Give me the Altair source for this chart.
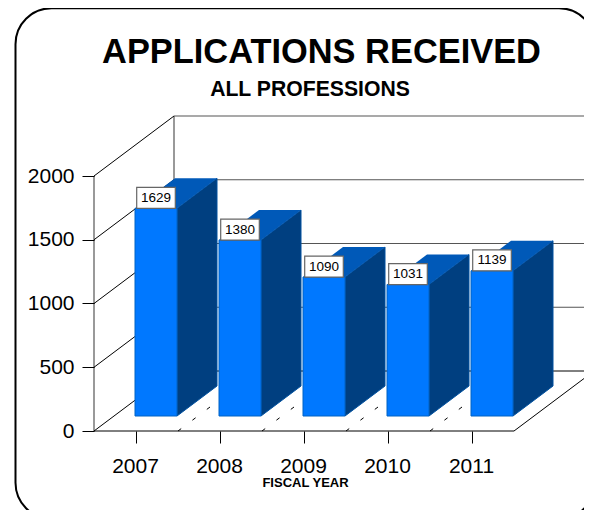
import altair as alt
import pandas as pd

years = [2007, 2008, 2009, 2010, 2011]
applications = [1629, 1380, 1090, 1031, 1139]
y_ticks = [0, 500, 1000, 1500, 2000]
title_text = "APPLICATIONS RECEIVED"
subtitle_text = "ALL PROFESSIONS"
x_title = "FISCAL YEAR"

FONT = "Liberation Sans"
W, H = 576, 502
XU = 1 / 84            # years per pixel
YU = 2000 / 255        # value units per pixel
DX, DY = 80 * XU, 60 * YU        # wall depth
BX, BY = 20 * XU, 15 * YU        # how far the bars stand in from the front
SX, SY = 40 * XU, 30 * YU        # depth of a bar
HALF = 21 * XU                   # half a bar's width
LEFT, END = 2006.5, 2011.5

xs = alt.Scale(domain=[2007 + (8 - 136) * XU, 2007 + (8 + W - 136) * XU], nice=False, zero=False)
ys = alt.Scale(domain=[(431 - 8 - H) * YU, (431 - 8) * YU], nice=False, zero=False)

x_axis = alt.Axis(
    values=years, format="d", grid=False, domain=False, tickSize=12, tickColor="black",
    labelFont=FONT, labelFontSize=21, labelColor="black", labelPadding=12, labelFlush=False,
    labelOffset=-1, labelOverlap=False, offset=-(H - 423), titleFont=FONT, titleFontSize=13,
    titleFontWeight="bold", titleColor="black", titleX=297, titleY=45, titleAnchor="middle", zindex=1)
y_axis = alt.Axis(
    values=y_ticks, format="d", grid=False, domain=False, tickSize=12, tickColor="black",
    labelFont=FONT, labelFontSize=21, labelColor="black", labelPadding=8,
    labelOverlap=False, offset=-86, zindex=1)


def X(f="x"):
    return alt.X(f"{f}:Q", scale=xs, axis=x_axis, title=x_title)


def Y(f="y"):
    return alt.Y(f"{f}:Q", scale=ys, axis=y_axis, title=None, stack=None)


# walls and floor
wall_side = pd.DataFrame([dict(x=LEFT, x2=LEFT + DX, y=v, y2=v + DY) for v in y_ticks])
back_grid = pd.DataFrame([dict(x=LEFT + DX, x2=END + DX, y=v + DY, y2=v + DY) for v in y_ticks[1:]])
verticals = pd.DataFrame([
    dict(x=LEFT, x2=LEFT, y=0, y2=2000),
    dict(x=LEFT + DX, x2=LEFT + DX, y=DY, y2=2000 + DY),
])
floor = pd.DataFrame([
    dict(x=LEFT, x2=END, y=0, y2=0),
    dict(x=LEFT + DX, x2=END + DX, y=DY, y2=DY),
    dict(x=END, x2=END + DX, y=0, y2=DY),
])
floor_dash = pd.DataFrame([dict(x=v + 0.5, x2=v + 0.5 + DX, y=0, y2=DY) for v in years[:-1]])


def rule(df, **kw):
    return alt.Chart(df).mark_rule(**kw).encode(x=X(), x2="x2:Q", y=Y(), y2="y2:Q")


# bars
front = pd.DataFrame([
    dict(year=str(a), x=a + BX - HALF, x2=a + BX + HALF, y=BY, y2=BY + v, value=v,
         cx=a + BX, boxx=a + BX - HALF + 1.7 * XU, boxx2=a + BX + HALF - 1.7 * XU,
         boxy=BY + v, boxy2=BY + v + 21 * YU, ty=BY + v + 10.5 * YU)
    for a, v in zip(years, applications)
])
side = pd.DataFrame([
    row
    for a, v in zip(years, applications)
    for row in (
        dict(year=str(a), x=a + BX + HALF, y=BY, y2=BY + v),
        dict(year=str(a), x=a + BX + HALF + SX, y=BY + SY, y2=BY + v + SY),
    )
])
top = pd.DataFrame([
    row
    for a, v in zip(years, applications)
    for row in (
        dict(year=str(a), x=a + BX - HALF, x2=a + BX + HALF, y=BY + v),
        dict(year=str(a), x=a + BX - HALF + SX, x2=a + BX + HALF + SX, y=BY + v + SY),
    )
])

frame = alt.Chart(pd.DataFrame({"k": [0]})).mark_rect(
    fillOpacity=0, stroke="black", strokeWidth=2, cornerRadius=36
).encode(x=alt.value(7.5), x2=alt.value(587), y=alt.value(0.2), y2=alt.value(510.8))

layers = [
    frame,
    rule(verticals, color="#777777", strokeWidth=1.5),
    rule(back_grid, color="#555555", strokeWidth=1.2),
    rule(wall_side, color="black", strokeWidth=1),
    rule(floor, color="black", strokeWidth=1),
    rule(floor_dash, color="black", strokeWidth=1, strokeDash=[4, 14]),
    alt.Chart(side).mark_area(color="#003F80", stroke="#00509F", strokeWidth=1).encode(
        x=X(), y=Y(), y2="y2:Q", detail="year:N"),
    alt.Chart(top).mark_area(color="#0059B8", orient="horizontal").encode(
        x=X(), x2="x2:Q", y=Y(), detail="year:N"),
    alt.Chart(front).mark_rect(color="#0078FF", stroke="#0062C4", strokeWidth=1).encode(
        x=X(), x2="x2:Q", y=Y(), y2="y2:Q"),
    alt.Chart(front).mark_rect(fill="white", stroke="#666666", strokeWidth=1.2).encode(
        x=X("boxx"), x2="boxx2:Q", y=Y("boxy"), y2="boxy2:Q"),
    alt.Chart(front).mark_text(font=FONT, fontSize=13.5, color="black", baseline="middle").encode(
        x=X("cx"), y=Y("ty"), text="value:Q"),
    alt.Chart(pd.DataFrame({"t": [subtitle_text]})).mark_text(
        font=FONT, fontSize=21.2, fontWeight="bold", color="black", baseline="alphabetic"
    ).encode(x=alt.value(302), y=alt.value(88), text="t:N"),
]

chart = alt.layer(*layers).properties(
    width=W, height=H,
    padding=0,
    autosize=alt.AutoSizeParams(type="none"),
    title=alt.TitleParams(text=title_text, font=FONT, fontSize=34.4, fontWeight="bold", color="black",
                          anchor="start", frame="group", baseline="alphabetic", align="center",
                          orient="top", offset=-90.5, dx=313.5),
).configure_view(stroke=None)

chart.save("out.html", embed_options={"renderer": "svg", "actions": False})
